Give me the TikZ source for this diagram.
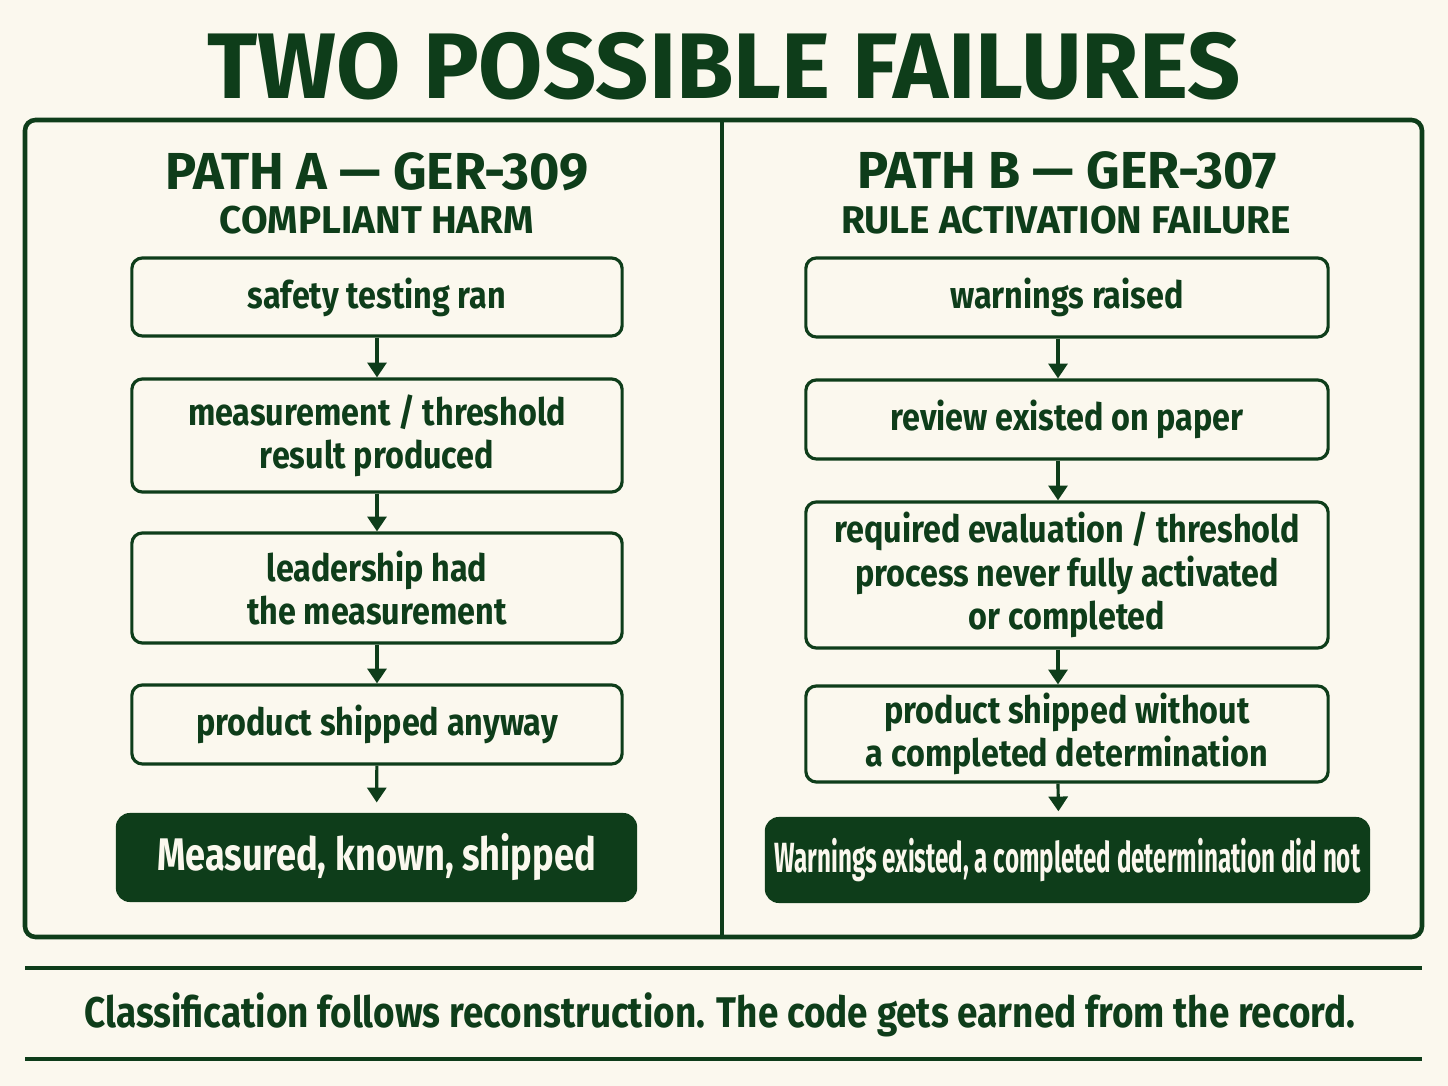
\documentclass[tikz,border=0pt]{standalone}
\usepackage{fontspec}
\setmainfont{Fira Sans}[FakeStretch=0.86]
\newfontfamily\widefont{Fira Sans}
\usetikzlibrary{arrows.meta}
\definecolor{cream}{HTML}{FBF8EE}
\definecolor{forest}{HTML}{0E3D1A}
\tikzset{
    stepbox/.style={draw=forest,line width=0.9pt,rounded corners=3pt,text=forest,
        font=\bfseries\fontsize{10.7}{12.3}\selectfont,align=center,inner sep=0pt},
    verdict/.style={fill=forest,rounded corners=4pt,text=cream,align=center,inner sep=0pt},
    flow/.style={draw=forest,line width=0.9pt,-{Triangle[length=4.2pt,width=5.4pt]}},
    heading/.style={text=forest,font=\widefont\bfseries\fontsize{14.8}{16}\selectfont},
    subheading/.style={text=forest,font=\widefont\bfseries\fontsize{11}{13}\selectfont}
}
\begin{document}
\begin{tikzpicture}[x=0.01cm,y=-0.01cm]
        \useasboundingbox[fill=cream] (0,0) rectangle (1448,1086);

        \node[text=forest,font=\widefont\bfseries\fontsize{26.5}{30}\selectfont] (title) at (724,66) {TWO POSSIBLE FAILURES};

        \draw[forest,line width=1.3pt,rounded corners=3pt] (25,120) rectangle (1422,937);% Frame
        \draw[forest,line width=1.3pt] (722,120) -- (722,937);% Divider

        % Path A
        \node[heading] (headA) at (377,172) {PATH A — GER-309};
        \node[subheading] (subA) at (377,220) {COMPLIANT HARM};
        \node[stepbox,minimum width=4.9cm,minimum height=0.78cm] (a1) at (377,297) {safety testing ran};
        \node[stepbox,minimum width=4.9cm,minimum height=1.13cm] (a2) at (377,435.5) {measurement / threshold\\ result produced};
        \node[stepbox,minimum width=4.9cm,minimum height=1.10cm] (a3) at (377,588) {leadership had\\ the measurement};
        \node[stepbox,minimum width=4.9cm,minimum height=0.79cm] (a4) at (377,724.5) {product shipped anyway};
        \node[verdict,minimum width=5.21cm,minimum height=0.89cm,font=\bfseries\fontsize{13}{15}\selectfont] (a5) at (376.5,857.5) {\scalebox{0.92}[1]{Measured, known, shipped}};

        \draw[flow] (a1) -- (a2);
        \draw[flow] (a2) -- (a3);
        \draw[flow] (a3) -- (a4);
        \draw[flow,shorten >=2.8pt] (a4) -- (a5);

        % Path B
        \node[heading] (headB) at (1067,170) {PATH B — GER-307};
        \node[subheading] (subB) at (1066,220) {RULE ACTIVATION FAILURE};
        \node[stepbox,minimum width=5.22cm,minimum height=0.79cm] (b1) at (1067,297.5) {warnings raised};
        \node[stepbox,minimum width=5.22cm,minimum height=0.79cm] (b2) at (1067,419.5) {review existed on paper};
        \node[stepbox,minimum width=5.22cm,minimum height=1.46cm] (b3) at (1067,575) {required evaluation / threshold\\ process never fully activated\\ or completed};
        \node[stepbox,minimum width=5.22cm,minimum height=0.96cm] (b4) at (1067,734) {product shipped without\\ a completed determination};
        \node[verdict,minimum width=6.05cm,minimum height=0.86cm,font=\bfseries\fontsize{12}{14}\selectfont] (b5) at (1067.5,860) {\scalebox{0.667}[1]{Warnings existed, a completed determination did not}};

        \draw[flow] ([xshift=-0.09cm]b1.south) -- ([xshift=-0.09cm]b2.north);
        \draw[flow] ([xshift=-0.09cm]b2.south) -- ([xshift=-0.09cm]b3.north);
        \draw[flow] ([xshift=-0.09cm]b3.south) -- ([xshift=-0.09cm]b4.north);
        \draw[flow,shorten >=1.4pt] ([xshift=-0.09cm]b4.south) -- ([xshift=-0.09cm]b5.north);

        % Footer
        \draw[forest,line width=1.1pt] (25,968) -- (1422,968);
        \node[text=forest,font=\bfseries\fontsize{12.2}{14}\selectfont] (motto) at (720,1015) {Classification follows reconstruction. The code gets earned from the record.};
        \draw[forest,line width=1.1pt] (25,1059) -- (1422,1059);
    \end{tikzpicture}
\end{document}
